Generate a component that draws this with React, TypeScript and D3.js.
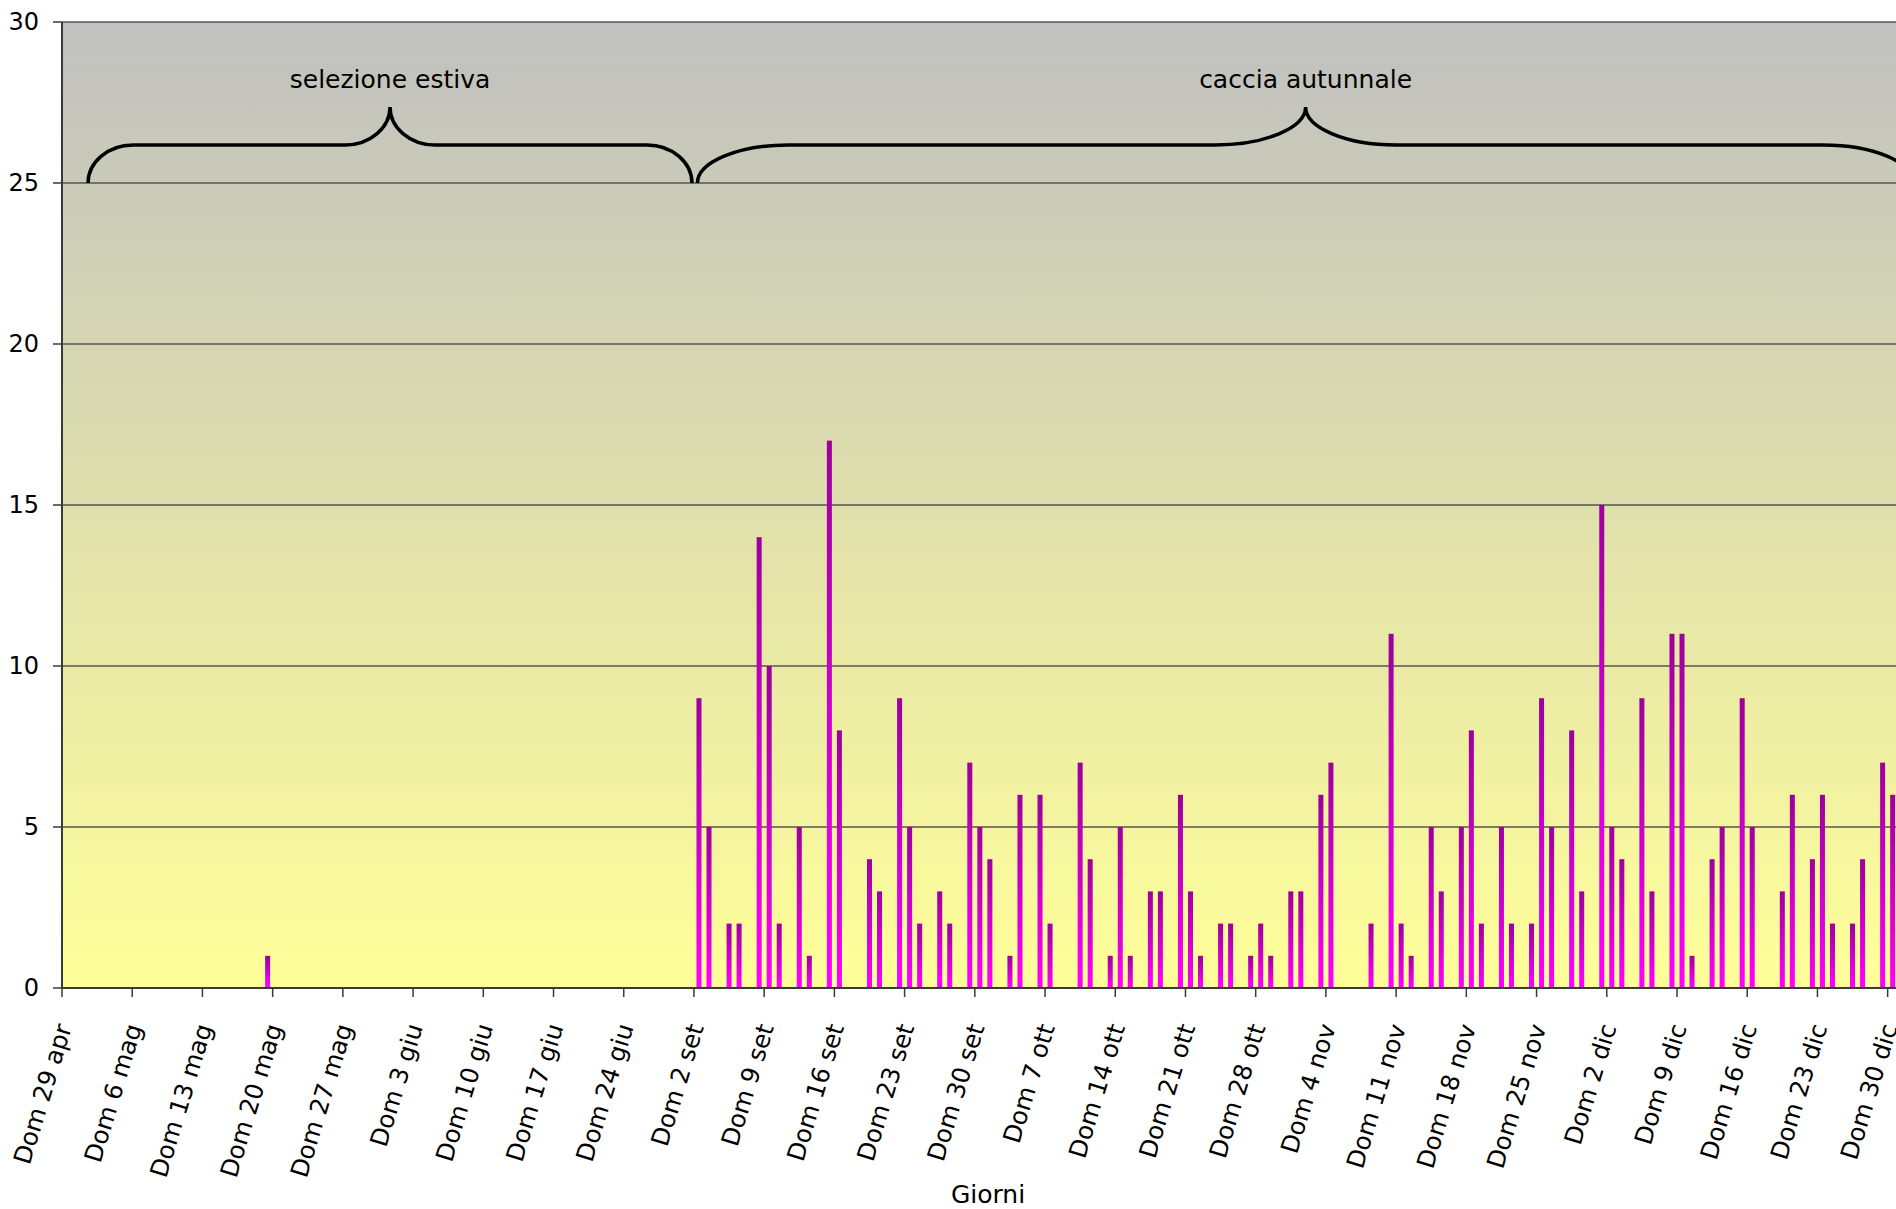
import React from "react";
import * as d3 from "d3";

// Daily counts, one per category (day). Index 0 = Dom 29 apr.
const DAY_COUNTS: number[] = [
  // apr - giu
  0, 0, 0, 0, 0, 0, 0,
  0, 0, 0, 0, 0, 0, 0,
  0, 0, 0, 0, 0, 0, 1,
  0, 0, 0, 0, 0, 0, 0,
  0, 0, 0, 0, 0, 0, 0,
  0, 0, 0, 0, 0, 0, 0,
  0, 0, 0, 0, 0, 0, 0,
  0, 0, 0, 0, 0, 0, 0,
  0, 0, 0, 0, 0, 0, 0,
  // set - dic
  9, 5, 0, 2, 2, 0, 14,
  10, 2, 0, 5, 1, 0, 17,
  8, 0, 0, 4, 3, 0, 9,
  5, 2, 0, 3, 2, 0, 7,
  5, 4, 0, 1, 6, 0, 6,
  2, 0, 0, 7, 4, 0, 1,
  5, 1, 0, 3, 3, 0, 6,
  3, 1, 0, 2, 2, 0, 1,
  2, 1, 0, 3, 3, 0, 6,
  7, 0, 0, 0, 2, 0, 11,
  2, 1, 0, 5, 3, 0, 5,
  8, 2, 0, 5, 2, 0, 2,
  9, 5, 0, 8, 3, 0, 15,
  5, 4, 0, 9, 3, 0, 11,
  11, 1, 0, 4, 5, 0, 9,
  5, 0, 0, 3, 6, 0, 4,
  6, 2, 0, 2, 4, 0, 7,
  6, 0,
];

// Sunday labels, one every 7 categories
const TICK_LABELS: string[] = [
  "Dom 29 apr", "Dom 6 mag", "Dom 13 mag", "Dom 20 mag", "Dom 27 mag",
  "Dom 3 giu", "Dom 10 giu", "Dom 17 giu", "Dom 24 giu",
  "Dom 2 set", "Dom 9 set", "Dom 16 set", "Dom 23 set", "Dom 30 set",
  "Dom 7 ott", "Dom 14 ott", "Dom 21 ott", "Dom 28 ott",
  "Dom 4 nov", "Dom 11 nov", "Dom 18 nov", "Dom 25 nov",
  "Dom 2 dic", "Dom 9 dic", "Dom 16 dic", "Dom 23 dic", "Dom 30 dic",
];
const TICK_EVERY = 7;

const Y_TICKS: number[] = [0, 5, 10, 15, 20, 25, 30];

// Period annotations (spans in category units)
const PERIOD_LABELS: string[] = ["selezione estiva", "caccia autunnale"];
const PERIOD_FROM: number[] = [2.6, 63.35];
const PERIOD_TO: number[] = [62.8, 184.6];

const X_TITLE = "Giorni";

const W = 1896;
const H = 1209;
const M = { left: 62, top: 22, bottom: 988 };
const STEP = 10.031;
const FONT = "'DejaVu Sans', Verdana, sans-serif";

function bracePath(x1: number, x2: number, yb: number, yh: number, yp: number) {
  const xm = (x1 + x2) / 2;
  const c = (x2 - x1) * 0.0745;
  const p = d3.path();
  p.moveTo(x1, yb);
  p.bezierCurveTo(x1, yb - (yb - yh) * 0.55, x1 + c * 0.45, yh, x1 + c, yh);
  p.lineTo(xm - c, yh);
  p.bezierCurveTo(xm - c * 0.45, yh, xm, yh - (yh - yp) * 0.45, xm, yp);
  p.bezierCurveTo(xm, yh - (yh - yp) * 0.45, xm + c * 0.45, yh, xm + c, yh);
  p.lineTo(x2 - c, yh);
  p.bezierCurveTo(x2 - c * 0.45, yh, x2, yb - (yb - yh) * 0.55, x2, yb);
  return p.toString();
}

export default function App() {
  const n = DAY_COUNTS.length;
  const x = d3
    .scaleBand<number>()
    .domain(d3.range(n))
    .range([M.left, M.left + n * STEP])
    .paddingInner(0.5)
    .paddingOuter(0.25);
  const step = x.step();
  const catStart = (i: number) => M.left + i * step;
  const y = d3.scaleLinear().domain([0, 30]).range([M.bottom, M.top]);
  const plotRight = M.left + n * step;

  return (
    <svg
      width={W}
      height={H}
      style={{ position: "absolute", left: 0, top: 0, background: "#fff" }}
      fontFamily={FONT}
    >
      <defs>
        <linearGradient id="bg" x1="0" y1="0" x2="0" y2="1">
          <stop offset="0%" stopColor="#C0C0C0" />
          <stop offset="100%" stopColor="#FFFF99" />
        </linearGradient>
        <linearGradient id="bar" x1="0" y1="0" x2="0" y2="1">
          <stop offset="0%" stopColor="#9C009C" />
          <stop offset="100%" stopColor="#FF00FF" />
        </linearGradient>
      </defs>

      <rect x={M.left} y={M.top} width={plotRight - M.left} height={M.bottom - M.top} fill="url(#bg)" />

      {/* gridlines */}
      {Y_TICKS.filter((t) => t > 0).map((t) => (
        <line key={t} x1={M.left} x2={plotRight} y1={y(t)} y2={y(t)} stroke="#555550" strokeWidth={1.3} />
      ))}

      {/* bars */}
      {DAY_COUNTS.map((v, i) =>
        v > 0 ? (
          <rect key={i} x={x(i)} y={y(v)} width={x.bandwidth()} height={y(0) - y(v)} fill="url(#bar)" />
        ) : null
      )}

      {/* axes */}
      <line x1={M.left} x2={M.left} y1={M.top} y2={M.bottom} stroke="#3a3a3a" strokeWidth={2} />
      <line x1={M.left} x2={plotRight} y1={M.bottom} y2={M.bottom} stroke="#3a3a3a" strokeWidth={2} />

      {Y_TICKS.map((t) => (
        <g key={t}>
          <line x1={M.left - 9} x2={M.left} y1={y(t)} y2={y(t)} stroke="#3a3a3a" strokeWidth={1.5} />
          <text x={39} y={y(t)} textAnchor="end" dominantBaseline="central" fontSize={24} fill="#000">
            {t}
          </text>
        </g>
      ))}

      {TICK_LABELS.map((lab, k) => {
        const tx = catStart(k * TICK_EVERY);
        return (
          <g key={lab}>
            <line x1={tx} x2={tx} y1={M.bottom} y2={M.bottom + 9} stroke="#3a3a3a" strokeWidth={1.5} />
            <text
              transform={`translate(${tx + 10},${M.bottom + 39}) rotate(-73)`}
              textAnchor="end"
              fontSize={24.5}
              fill="#000"
            >
              {lab}
            </text>
          </g>
        );
      })}

      <text x={988} y={1203} textAnchor="middle" fontSize={25} fill="#000">
        {X_TITLE}
      </text>

      {/* period braces */}
      {PERIOD_LABELS.map((lab, k) => {
        const x1 = catStart(PERIOD_FROM[k]);
        const x2 = catStart(PERIOD_TO[k]);
        const xm = (x1 + x2) / 2;
        return (
          <g key={lab}>
            <path
              d={bracePath(x1, x2, y(25), y(26.18), y(27.36))}
              fill="none"
              stroke="#000"
              strokeWidth={3.5}
            />
            <text x={xm} y={y(27.95)} textAnchor="middle" fontSize={25} fill="#000">
              {lab}
            </text>
          </g>
        );
      })}
    </svg>
  );
}
